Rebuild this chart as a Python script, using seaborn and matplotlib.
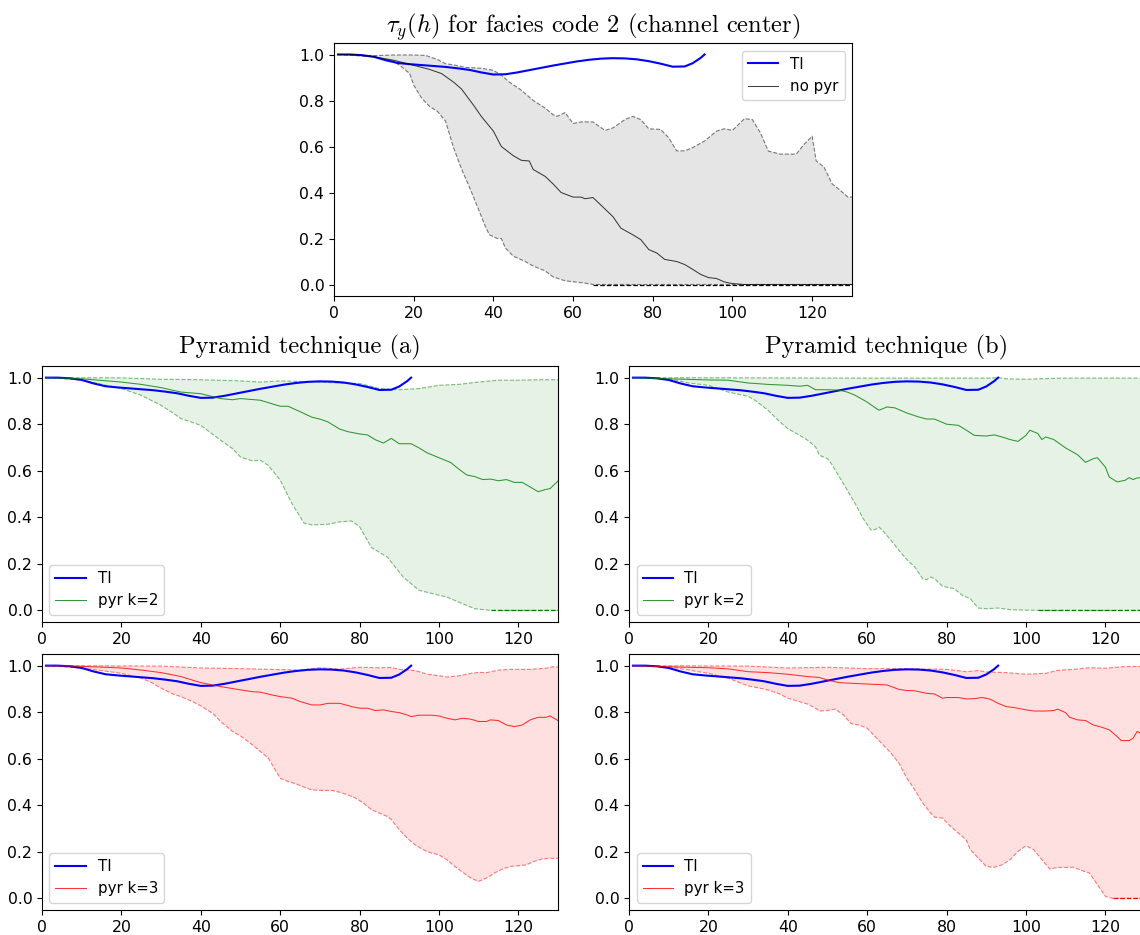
import numpy as np
import matplotlib
matplotlib.use("Agg")
import matplotlib.pyplot as plt
import seaborn as sns

plt.rcParams['mathtext.fontset'] = 'cm'
plt.rcParams['font.family'] = ['DejaVu Sans']

# ---------------- data ----------------
ti_h = [1, 4, 7, 10, 13, 16, 19, 22, 25, 28, 31, 34, 37, 40, 43, 46, 49, 52, 55, 58, 61, 64, 67, 70,
        73, 76, 79, 82, 85, 88, 90, 92, 93]
ti_v = [1.0, 1.0, 0.997, 0.99, 0.975, 0.963, 0.958, 0.954, 0.95, 0.946, 0.94, 0.933, 0.922, 0.913,
        0.914, 0.922, 0.932, 0.942, 0.952, 0.961, 0.97, 0.977, 0.982, 0.984, 0.983, 0.979, 0.971,
        0.96, 0.947, 0.948, 0.962, 0.985, 1.0]

# no pyramid
np_mean_h = [1, 5, 10, 15, 20, 24, 27, 30, 32, 35, 37, 40, 42, 45, 47, 49, 50, 53, 55, 57, 60, 62, 63,
             65, 67, 70, 72, 75, 77, 79, 81, 83, 86, 88, 90, 92, 94, 96, 98, 100, 103, 110, 120, 130]
np_mean_v = [1.0, 1.0, 0.99, 0.975, 0.953, 0.935, 0.917, 0.88, 0.85, 0.78, 0.73, 0.667, 0.60, 0.56,
             0.54, 0.537, 0.50, 0.47, 0.437, 0.40, 0.38, 0.38, 0.373, 0.378, 0.345, 0.295, 0.245,
             0.216, 0.195, 0.152, 0.137, 0.109, 0.10, 0.087, 0.066, 0.044, 0.03, 0.026, 0.011, 0.004,
             0.0, 0.0, 0.0, 0.0]
np_up_h = [1, 10, 15, 20, 23, 26, 28, 30, 33, 37, 40, 42, 44, 47, 50, 53, 55, 56, 58, 60, 62, 65, 68,
           70, 73, 75, 77, 79, 82, 84, 86, 88, 90, 93, 96, 98, 100, 103, 105, 107, 109, 112, 116, 118,
           120, 121, 123, 125, 127, 129, 130]
np_up_v = [1.0, 0.995, 0.998, 0.998, 0.996, 0.978, 0.96, 0.955, 0.944, 0.94, 0.931, 0.91, 0.88, 0.845,
           0.80, 0.767, 0.738, 0.731, 0.748, 0.70, 0.707, 0.707, 0.67, 0.681, 0.717, 0.731, 0.717,
           0.677, 0.674, 0.638, 0.581, 0.581, 0.595, 0.624, 0.667, 0.677, 0.67, 0.721, 0.717, 0.66,
           0.58, 0.567, 0.567, 0.61, 0.645, 0.538, 0.51, 0.438, 0.41, 0.38, 0.38]
np_lo_h = [1, 10, 15, 17, 19, 20, 22, 24, 26, 28, 30, 32, 34, 36, 38, 39, 41, 42, 43, 45, 48, 50, 53,
           55, 58, 60, 63, 65, 130]
np_lo_v = [1.0, 0.99, 0.97, 0.946, 0.917, 0.867, 0.81, 0.774, 0.752, 0.71, 0.595, 0.502, 0.423, 0.338,
           0.252, 0.216, 0.20, 0.2, 0.159, 0.123, 0.10, 0.08, 0.059, 0.033, 0.016, 0.012, 0.006, 0.0, 0.0]

# pyramid (a), k=2
a2_mean_h = [1, 10, 20, 25, 30, 35, 40, 45, 48, 50, 55, 60, 62, 65, 68, 70, 72, 75, 77, 80, 82, 84, 86,
             88, 90, 93, 95, 97, 100, 103, 105, 107, 109, 111, 113, 115, 117, 119, 121, 123, 125, 127,
             128, 130]
a2_mean_v = [1.0, 0.995, 0.981, 0.971, 0.957, 0.938, 0.931, 0.91, 0.905, 0.91, 0.903, 0.877, 0.877,
             0.854, 0.83, 0.822, 0.81, 0.779, 0.768, 0.758, 0.754, 0.733, 0.719, 0.739, 0.716, 0.716,
             0.698, 0.677, 0.656, 0.635, 0.607, 0.582, 0.575, 0.562, 0.564, 0.557, 0.562, 0.55, 0.55,
             0.53, 0.51, 0.52, 0.523, 0.556]
a2_up_h = [1, 20, 30, 40, 50, 55, 60, 70, 75, 80, 85, 90, 95, 100, 105, 110, 115, 120, 125, 130]
a2_up_v = [1.0, 0.999, 0.993, 0.991, 0.986, 0.981, 0.986, 0.981, 0.977, 0.975, 0.953, 0.948, 0.953,
           0.967, 0.971, 0.981, 0.989, 0.989, 0.991, 0.991]
a2_lo_h = [1, 10, 20, 25, 30, 33, 35, 40, 45, 48, 50, 53, 55, 57, 60, 63, 66, 68, 72, 75, 78, 80, 81, 83,
           87, 91, 95, 102, 109, 113, 130]
a2_lo_v = [1.0, 0.99, 0.953, 0.924, 0.881, 0.848, 0.824, 0.795, 0.731, 0.695, 0.659, 0.642, 0.645,
           0.623, 0.56, 0.458, 0.375, 0.367, 0.37, 0.38, 0.384, 0.36, 0.33, 0.27, 0.229, 0.143, 0.086,
           0.057, 0.007, 0.0, 0.0]

# pyramid (b), k=2
b2_mean_h = [1, 10, 20, 25, 30, 35, 40, 43, 45, 47, 50, 53, 55, 57, 60, 62, 63, 65, 67, 70, 73, 75, 77,
             80, 83, 85, 87, 90, 92, 94, 96, 98, 100, 101, 103, 104, 105, 107, 110, 113, 115, 117, 118,
             120, 121, 123, 125, 126, 127, 128, 130]
b2_mean_v = [1.0, 0.995, 0.99, 0.989, 0.977, 0.971, 0.967, 0.963, 0.967, 0.948, 0.948, 0.946, 0.938,
             0.924, 0.895, 0.871, 0.86, 0.874, 0.87, 0.848, 0.831, 0.822, 0.822, 0.80, 0.795, 0.774,
             0.752, 0.749, 0.754, 0.745, 0.734, 0.726, 0.752, 0.774, 0.76, 0.734, 0.745, 0.734, 0.698,
             0.669, 0.636, 0.652, 0.656, 0.616, 0.573, 0.552, 0.559, 0.57, 0.562, 0.569, 0.57]
b2_up_h = [1, 30, 60, 90, 93, 95, 100, 105, 110, 130]
b2_up_v = [1.0, 0.999, 0.998, 0.998, 1.0, 0.995, 0.993, 0.996, 0.998, 0.998]
b2_lo_h = [1, 10, 15, 20, 25, 30, 32, 35, 38, 40, 43, 45, 47, 48, 50, 51, 53, 55, 57, 59, 61, 62, 63,
           64, 66, 68, 70, 72, 74, 75, 76, 77, 79, 80, 82, 84, 86, 87, 88, 90, 93, 96, 100, 103, 130]
b2_lo_v = [1.0, 0.995, 0.977, 0.967, 0.938, 0.92, 0.9, 0.86, 0.81, 0.781, 0.752, 0.731, 0.702, 0.666,
           0.652, 0.63, 0.573, 0.516, 0.458, 0.394, 0.344, 0.347, 0.358, 0.341, 0.301, 0.258, 0.218,
           0.186, 0.136, 0.132, 0.143, 0.136, 0.103, 0.10, 0.093, 0.064, 0.05, 0.029, 0.01, 0.007,
           0.01, 0.003, 0.001, 0.0, 0.0]

# pyramid (a), k=3
a3_mean_h = [1, 10, 20, 25, 30, 33, 35, 40, 45, 50, 53, 55, 58, 60, 63, 65, 68, 70, 72, 75, 78, 80, 82,
             84, 86, 88, 90, 92, 93, 95, 98, 100, 102, 104, 106, 108, 110, 112, 113, 115, 117, 119, 121,
             123, 125, 127, 128, 130]
a3_mean_v = [1.0, 0.997, 0.99, 0.981, 0.97, 0.96, 0.953, 0.927, 0.91, 0.896, 0.888, 0.886, 0.874, 0.867,
             0.86, 0.846, 0.831, 0.831, 0.838, 0.838, 0.824, 0.817, 0.817, 0.807, 0.81, 0.803, 0.798,
             0.788, 0.781, 0.787, 0.787, 0.784, 0.774, 0.767, 0.774, 0.77, 0.76, 0.76, 0.767, 0.764,
             0.745, 0.738, 0.745, 0.767, 0.778, 0.778, 0.784, 0.764]
a3_up_h = [1, 30, 40, 50, 60, 65, 70, 75, 80, 85, 88, 90, 93, 95, 97, 100, 102, 105, 108, 110, 112, 115,
           118, 120, 123, 127, 129, 130]
a3_up_v = [1.0, 0.998, 0.99, 0.987, 0.983, 0.981, 0.991, 0.985, 0.993, 0.991, 0.992, 0.984, 0.981, 0.974,
           0.963, 0.957, 0.951, 0.956, 0.967, 0.971, 0.97, 0.981, 0.984, 0.984, 0.984, 0.989, 0.996, 0.993]
a3_lo_h = [1, 10, 20, 25, 28, 30, 33, 35, 38, 40, 43, 45, 48, 50, 53, 55, 57, 58, 60, 62, 64, 66, 68, 70,
           73, 75, 77, 79, 81, 83, 85, 87, 88, 90, 92, 94, 96, 98, 100, 102, 104, 106, 108, 110, 112,
           114, 116, 118, 120, 122, 124, 126, 128, 130]
a3_lo_v = [1.0, 0.99, 0.967, 0.946, 0.924, 0.903, 0.878, 0.867, 0.845, 0.827, 0.795, 0.76, 0.717, 0.698,
           0.66, 0.631, 0.603, 0.574, 0.516, 0.502, 0.492, 0.478, 0.466, 0.464, 0.464, 0.456, 0.445,
           0.431, 0.409, 0.381, 0.366, 0.352, 0.338, 0.295, 0.259, 0.23, 0.209, 0.195, 0.187, 0.166,
           0.137, 0.112, 0.087, 0.073, 0.087, 0.109, 0.126, 0.137, 0.14, 0.144, 0.159, 0.169, 0.172, 0.172]

# pyramid (b), k=3
b3_mean_h = [1, 10, 20, 25, 30, 35, 40, 45, 48, 50, 53, 55, 60, 65, 68, 70, 72, 75, 77, 79, 80, 83, 85,
             87, 89, 91, 93, 95, 97, 100, 102, 105, 107, 108, 110, 111, 113, 115, 117, 119, 121, 123,
             124, 126, 127, 128, 129, 130]
b3_mean_v = [1.0, 0.995, 0.991, 0.986, 0.974, 0.97, 0.963, 0.953, 0.949, 0.938, 0.927, 0.925, 0.921,
             0.917, 0.898, 0.893, 0.892, 0.881, 0.878, 0.86, 0.863, 0.863, 0.857, 0.858, 0.863, 0.856,
             0.838, 0.824, 0.82, 0.81, 0.805, 0.805, 0.807, 0.813, 0.798, 0.778, 0.767, 0.764, 0.745,
             0.736, 0.724, 0.695, 0.678, 0.678, 0.688, 0.717, 0.71, 0.71]
b3_up_h = [1, 30, 40, 50, 60, 70, 80, 85, 88, 90, 95, 100, 105, 108, 112, 116, 120, 125, 130]
b3_up_v = [1.0, 0.998, 0.99, 0.993, 0.987, 0.987, 0.984, 0.974, 0.979, 0.973, 0.97, 0.963, 0.967, 0.98,
           0.984, 0.991, 0.989, 0.996, 0.997]
b3_lo_h = [1, 10, 20, 25, 30, 35, 38, 40, 43, 45, 47, 48, 50, 52, 54, 56, 58, 60, 62, 64, 66, 68, 70,
           72, 74, 76, 77, 79, 81, 83, 84, 85, 86, 88, 90, 92, 94, 96, 98, 100, 102, 104, 106, 108, 110,
           112, 114, 116, 118, 120, 121, 122, 130]
b3_lo_v = [1.0, 0.995, 0.967, 0.946, 0.913, 0.896, 0.878, 0.86, 0.845, 0.835, 0.817, 0.805, 0.807, 0.813,
           0.788, 0.75, 0.745, 0.731, 0.695, 0.66, 0.624, 0.581, 0.516, 0.466, 0.409, 0.366, 0.349,
           0.345, 0.309, 0.28, 0.266, 0.249, 0.209, 0.173, 0.137, 0.133, 0.144, 0.166, 0.202, 0.226,
           0.209, 0.166, 0.126, 0.133, 0.133, 0.134, 0.12, 0.109, 0.059, 0.009, 0.003, 0.0, 0.0]

x_ticks = [0, 20, 40, 60, 80, 100, 120]
y_ticks = [0.0, 0.2, 0.4, 0.6, 0.8, 1.0]

# ---------------- figure ----------------
W, H = 1140, 935
fig = plt.figure(figsize=(W / 100, H / 100), dpi=100)


def axes_px(x0, x1, y0, y1):
    return fig.add_axes([x0 / W, 1 - y1 / H, (x1 - x0) / W, (y1 - y0) / H])


TICK_FS = 11.3
LEG_FS = 10.8
TITLE_FS = 17.6


def panel(ax, mean_h, mean_v, up_h, up_v, lo_h, lo_v, color, fill_alpha, mean_lw, mean_alpha,
          label, legend_loc):
    up_h = np.asarray(up_h, float); up_v = np.asarray(up_v, float)
    lo_h = np.asarray(lo_h, float); lo_v = np.asarray(lo_v, float)
    ax.fill(np.concatenate([up_h, lo_h[::-1]]), np.concatenate([up_v, lo_v[::-1]]),
            color=color, alpha=fill_alpha, linewidth=0, zorder=1)
    sns.lineplot(x=up_h, y=up_v, ax=ax, color=color, alpha=0.5, linewidth=0.8,
                 linestyle='--', estimator=None, sort=False, zorder=2)
    sns.lineplot(x=lo_h, y=lo_v, ax=ax, color=color, alpha=0.5, linewidth=0.8,
                 linestyle='--', estimator=None, sort=False, zorder=2)
    zero_v = np.where(lo_v == 0, lo_v, np.nan)
    ax.plot(lo_h, zero_v, color=color, linewidth=0.9, linestyle='--', zorder=2)
    sns.lineplot(x=np.asarray(ti_h, float), y=np.asarray(ti_v, float), ax=ax, color='blue',
                 linewidth=1.5, estimator=None, sort=False, label='TI', zorder=3)
    sns.lineplot(x=np.asarray(mean_h, float), y=np.asarray(mean_v, float), ax=ax, color=color,
                 linewidth=mean_lw, alpha=mean_alpha, estimator=None, sort=False, label=label,
                 zorder=3)
    ax.set_xlim(0, 130)
    ax.set_ylim(-0.05, 1.05)
    ax.set_xticks(x_ticks)
    ax.set_yticks(y_ticks)
    ax.set_xticklabels([str(t) for t in x_ticks])
    ax.set_yticklabels([f"{t:.1f}" for t in y_ticks])
    ax.tick_params(labelsize=TICK_FS, direction='out', length=3.5, width=0.8)
    ax.set_xlabel('')
    ax.set_ylabel('')
    for s in ax.spines.values():
        s.set_linewidth(0.8)
    ax.legend(loc=legend_loc, fontsize=LEG_FS)


ax_top = axes_px(334, 852, 43, 296)
panel(ax_top, np_mean_h, np_mean_v, np_up_h, np_up_v, np_lo_h, np_lo_v,
      'black', 0.1, 0.75, 0.75, 'no pyr', 'upper right')
ax_top.set_title(r'$\tau_y(h)$ for facies code 2 (channel center)', fontsize=TITLE_FS,
                 fontfamily='cmr10', pad=7)

ax_a2 = axes_px(42, 558, 366, 622)
panel(ax_a2, a2_mean_h, a2_mean_v, a2_up_h, a2_up_v, a2_lo_h, a2_lo_v,
      'green', 0.1, 0.75, 0.8, 'pyr k=2', 'lower left')
ax_a2.set_title('Pyramid technique (a)', fontsize=TITLE_FS, fontfamily='cmr10', pad=9)

ax_b2 = axes_px(629, 1145, 366, 622)
panel(ax_b2, b2_mean_h, b2_mean_v, b2_up_h, b2_up_v, b2_lo_h, b2_lo_v,
      'green', 0.1, 0.75, 0.8, 'pyr k=2', 'lower left')
ax_b2.set_title('Pyramid technique (b)', fontsize=TITLE_FS, fontfamily='cmr10', pad=9)

ax_a3 = axes_px(42, 558, 654, 910)
panel(ax_a3, a3_mean_h, a3_mean_v, a3_up_h, a3_up_v, a3_lo_h, a3_lo_v,
      'red', 0.12, 0.75, 0.8, 'pyr k=3', 'lower left')

ax_b3 = axes_px(629, 1145, 654, 910)
panel(ax_b3, b3_mean_h, b3_mean_v, b3_up_h, b3_up_v, b3_lo_h, b3_lo_v,
      'red', 0.12, 0.75, 0.8, 'pyr k=3', 'lower left')

fig.savefig('out.png', dpi=100)
